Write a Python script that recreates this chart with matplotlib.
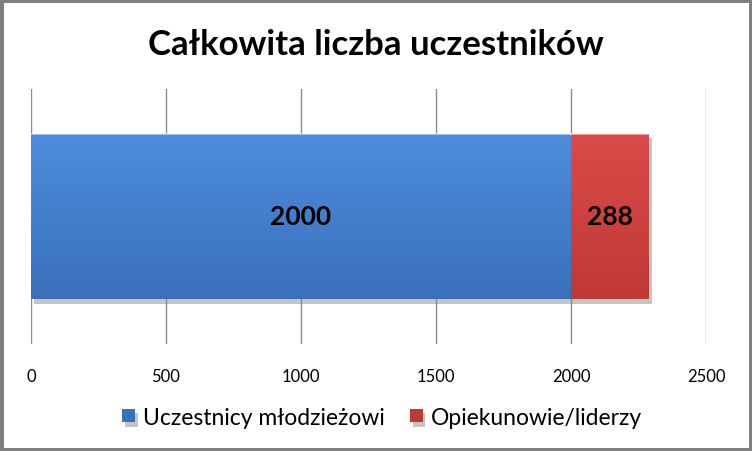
import numpy as np
import matplotlib
matplotlib.use("Agg")
import matplotlib.pyplot as plt
from matplotlib.patches import Rectangle
from matplotlib import patheffects as pe

plt.rcParams['font.family'] = ['Lato', 'DejaVu Sans']

# dane
categories = ['Uczestnicy młodzieżowi', 'Opiekunowie/liderzy']
values = [2000, 288]
colors_top = ['#4e8ddc', '#da4a48']
colors_bot = ['#3a70bb', '#bf3936']
ticks = [0, 500, 1000, 1500, 2000, 2500]

fig = plt.figure(figsize=(7.52, 4.52), dpi=100)
ax = fig.add_axes([0.0412, 0.2367, 0.8976, 0.5643])

left = 0
handles = []
for cat, val, ct, cb in zip(categories, values, colors_top, colors_bot):
    bars = ax.barh(0, val, left=left, height=0.65, color=cb, zorder=3, label=cat,
                   path_effects=[pe.SimplePatchShadow(offset=(2, -3), shadow_rgbFace='#808080', alpha=0.45),
                                 pe.Normal()])
    p = bars[0]
    grad = np.linspace(0, 1, 256).reshape(-1, 1)
    cmap = matplotlib.colors.LinearSegmentedColormap.from_list('g', [cb, ct])
    im = ax.imshow(grad, extent=[left, left + val, -0.325, 0.325], origin='lower',
                   aspect='auto', cmap=cmap, zorder=4)
    im.set_clip_path(p)
    ax.plot([left, left + val], [0.322, 0.322], color='white', alpha=0.45, lw=1.5, zorder=5)
    ax.text(left + val / 2, 0, str(val), ha='center', va='center',
            fontsize=19, fontweight='bold', color='black', zorder=6)
    handles.append(bars)
    left += val

ax.set_xlim(0, 2500)
ax.set_ylim(-0.5, 0.5)
ax.set_xticks(ticks)
ax.set_xticklabels([str(t) for t in ticks], fontsize=12)
ax.set_yticks([])
ax.tick_params(axis='x', length=0, pad=17)
ax.grid(axis='x', color='#8c8c8c', lw=1)
ax.set_axisbelow(True)
for s in ax.spines.values():
    s.set_visible(False)

fig.text(0.5, 0.90, 'Całkowita liczba uczestników', ha='center', va='center',
         fontsize=25, fontweight='bold')

fig.legend(handles=handles, labels=categories, loc='center', bbox_to_anchor=(0.508, 0.075),
           ncol=2, frameon=False, fontsize=16.5, handlelength=0.55, handleheight=0.55,
           columnspacing=1.1, handletextpad=0.35)

fig.patches.append(Rectangle((0, 0), 1, 1, transform=fig.transFigure, fill=False,
                             edgecolor='#7f7f7f', lw=5, zorder=10))

fig.savefig('out.png', dpi=100)
